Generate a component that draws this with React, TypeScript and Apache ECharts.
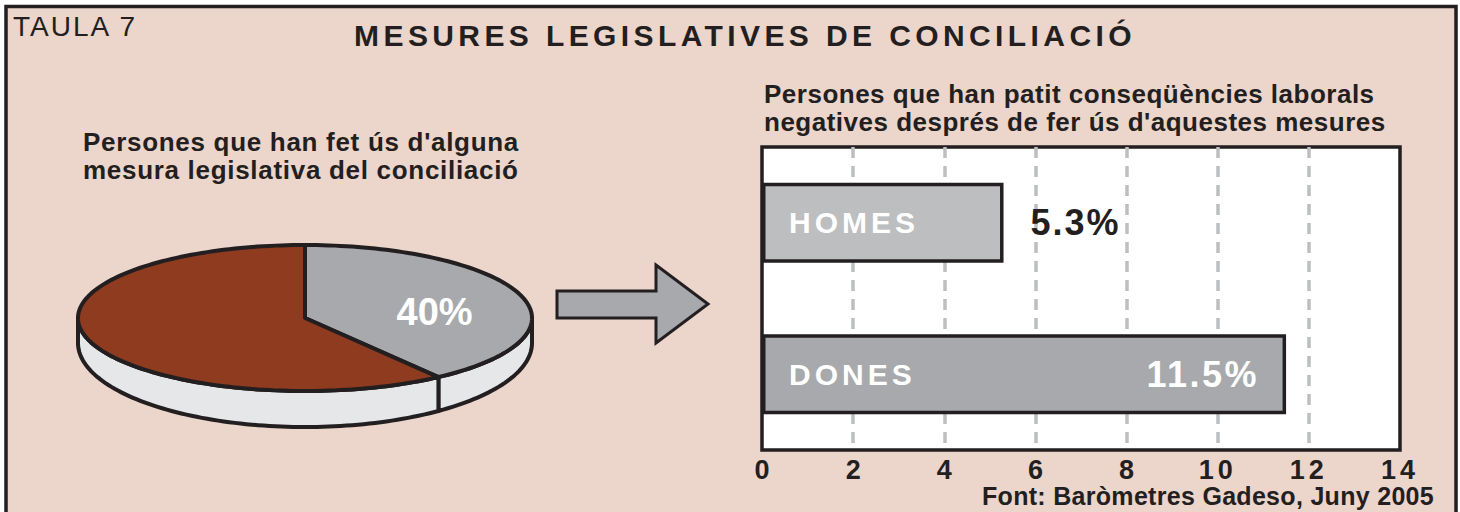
import { useEffect, useRef } from 'react';
import * as echarts from 'echarts';

// ---------- data ----------
const tableLabel = 'TAULA 7';
const chartTitle = 'MESURES LEGISLATIVES DE CONCILIACIÓ';
const pieTitle = "Persones que han fet ús d'alguna\nmesura legislativa del conciliació";
const barTitle = "Persones que han patit conseqüències laborals\nnegatives després de fer ús d'aquestes mesures";
const sourceNote = 'Font: Baròmetres Gadeso, Juny 2005';

const pieNames = ['Sí', 'No'];
const pieValues = [40, 60];
const pieLabels = ['40%', ''];

const barCategories = ['HOMES', 'DONES'];
const barValues = [5.3, 11.5];

const xMin = 0;
const xMax = 14;
const xInterval = 2;

// ---------- style ----------
const FONT = "'Liberation Sans', Arial, Helvetica, sans-serif";
const INK = '#231F20';
const PAPER = '#ECD5CB';
const pieColors = ['#A7A9AC', '#8E3B1F'];
const pieSideColor = '#E6E7E8';
const barColors = ['#BCBEC0', '#A7A9AC'];

const PIE = { cx: 305, cy: 318, rx: 227, ry: 73, drop: 25, bottomRy: 84 };

const SPACING: Record<string, number> = {
  [tableLabel]: 2,
  [chartTitle]: 4.4,
  "Persones que han fet ús d'alguna": 0.7,
  'mesura legislativa del conciliació': 0.7,
  'Persones que han patit conseqüències laborals': 0.5,
  "negatives després de fer ús d'aquestes mesures": 0.5,
  [sourceNote]: 0.3,
  HOMES: 4,
  DONES: 4,
  '5.3%': 2,
  '11.5%': 2.5,
  '10': 4,
  '12': 4,
  '14': 4,
};

function applySpacing(root: HTMLElement) {
  root.querySelectorAll('text').forEach((t) => {
    const s = SPACING[(t.textContent || '').trim()];
    if (s) (t as SVGTextElement).style.letterSpacing = s + 'px';
  });
}

function renderPieSlice(params: any, api: any) {
  const i = params.dataIndex;
  const v = api.value(0) as number;
  const total = pieValues.reduce((a, b) => a + b, 0);
  const before = pieValues.slice(0, i).reduce((a, b) => a + b, 0);
  const a0 = -Math.PI / 2 + (before / total) * Math.PI * 2;
  const a1 = a0 + (v / total) * Math.PI * 2;
  const { cx, cy, rx, ry, drop, bottomRy } = PIE;
  const top = (t: number) => [cx + rx * Math.cos(t), cy + ry * Math.sin(t)];
  const bot = (t: number) => [cx + rx * Math.cos(t), cy + drop + bottomRy * Math.sin(t)];
  const arc = (s: number, e: number, f: (t: number) => number[]) => {
    const n = Math.max(2, Math.ceil(Math.abs(e - s) / (Math.PI / 120)));
    const pts: number[][] = [];
    for (let k = 0; k <= n; k++) pts.push(f(s + ((e - s) * k) / n));
    return pts;
  };
  const children: any[] = [];
  const s = Math.max(a0, 0);
  const e = Math.min(a1, Math.PI);
  if (e > s) {
    children.push({
      type: 'polygon',
      shape: { points: [...arc(s, e, top), ...arc(e, s, bot)] },
      style: { fill: pieSideColor, stroke: INK, lineWidth: 4, lineJoin: 'round' },
    });
  }
  children.push({
    type: 'polygon',
    shape: { points: [[cx, cy], ...arc(a0, a1, top)] },
    style: { fill: pieColors[i], stroke: INK, lineWidth: 4, lineJoin: 'round' },
  });
  if (pieLabels[i]) {
    const m = (a0 + a1) / 2;
    children.push({
      type: 'text',
      style: {
        text: pieLabels[i],
        x: cx + 0.6 * rx * Math.cos(m),
        y: cy + 0.25 * ry * Math.sin(m),
        fill: '#fff',
        fontSize: 38,
        fontWeight: 'bold',
        fontFamily: FONT,
        align: 'center',
        verticalAlign: 'middle',
        textAlign: 'center',
        textVerticalAlign: 'middle',
      },
    });
  }
  return { type: 'group', children };
}

function txt(text: string, x: number, y: number, size: number, weight: string, align: string, extra: any = {}) {
  return {
    type: 'text',
    z: 10,
    x,
    y,
    style: {
      text,
      fill: INK,
      fontSize: size,
      fontWeight: weight,
      fontFamily: FONT,
      align,
      verticalAlign: 'middle',
      textAlign: align,
      textVerticalAlign: 'middle',
      ...extra,
    },
  };
}

export default function App() {
  const ref = useRef<HTMLDivElement>(null);
  useEffect(() => {
    if (!ref.current) return;
    const chart = echarts.init(ref.current, undefined, { renderer: 'svg' });
    const option: any = {
      animation: false,
      backgroundColor: '#ffffff',
      graphic: [
        {
          type: 'rect',
          z: -10,
          shape: { x: 6, y: 6.5, width: 1450, height: 600 },
          style: { fill: PAPER, stroke: INK, lineWidth: 3.5 },
        },
        txt(tableLabel, 13, 26.8, 28, 'normal', 'left'),
        txt(chartTitle, 745, 35, 30, 'bold', 'center'),
        txt(pieTitle, 83, 156.4, 26, 'bold', 'left', { lineHeight: 28 }),
        txt(barTitle, 764, 108, 26, 'bold', 'left', { lineHeight: 28 }),
        txt(sourceNote, 1434, 496, 25, 'bold', 'right'),
        {
          type: 'polygon',
          z: 5,
          shape: {
            points: [
              [557, 291], [656, 291], [656, 265], [708, 304], [656, 343], [656, 318], [557, 318],
            ],
          },
          style: { fill: '#A7A9AC', stroke: INK, lineWidth: 3, lineJoin: 'miter' },
        },
      ],
      grid: {
        left: 762,
        top: 147,
        right: 60,
        bottom: 62,
        show: true,
        backgroundColor: '#ffffff',
        borderColor: INK,
        borderWidth: 3.5,
        containLabel: false,
      },
      xAxis: {
        type: 'value',
        min: xMin,
        max: xMax,
        interval: xInterval,
        axisLine: { show: false },
        axisTick: { show: false },
        axisLabel: {
          color: INK,
          fontSize: 27,
          fontWeight: 'bold',
          fontFamily: FONT,
          margin: 6,
        },
        splitLine: {
          show: true,
          showMinLine: false,
          showMaxLine: false,
          lineStyle: { color: '#BCBEC0', width: 3.5, type: [11, 8], dashOffset: 0 },
        },
      },
      yAxis: {
        type: 'category',
        data: barCategories,
        inverse: true,
        axisLine: { show: false },
        axisTick: { show: false },
        axisLabel: { show: false },
        splitLine: { show: false },
      },
      series: [
        {
          type: 'custom',
          coordinateSystem: 'none',
          renderItem: renderPieSlice,
          data: pieValues.map((v, i) => ({ name: pieNames[i], value: [v] })),
          silent: true,
          z: 5,
        },
        {
          type: 'bar',
          data: barValues.map((v, i) => ({
            value: v,
            itemStyle: { color: barColors[i % barColors.length] },
          })),
          barWidth: 80,
          itemStyle: { borderColor: INK, borderWidth: 3.5 },
          label: {
            show: true,
            position: 'insideLeft',
            distance: 27,
            formatter: '{b}',
            color: '#ffffff',
            fontSize: 30,
            fontWeight: 'bold',
            fontFamily: FONT,
          },
          silent: true,
        },
        {
          type: 'bar',
          barGap: '-100%',
          data: barValues.map((v) => {
            const inside = v > (xMax - xMin) / 2;
            return {
              value: v,
              label: inside
                ? { position: 'insideRight', distance: 27, color: '#ffffff' }
                : { position: 'right', distance: 27, color: INK },
            };
          }),
          barWidth: 80,
          itemStyle: { color: 'rgba(0,0,0,0)', borderWidth: 0 },
          label: {
            show: true,
            formatter: '{c}%',
            fontSize: 36,
            fontWeight: 'bold',
            fontFamily: FONT,
          },
          silent: true,
        },
      ],
    };
    chart.setOption(option);
    applySpacing(ref.current);
    const el = ref.current;
    const onRendered = () => applySpacing(el);
    chart.on('finished', onRendered);
    return () => {
      chart.off('finished', onRendered);
      chart.dispose();
    };
  }, []);
  return (
    <div
      ref={ref}
      style={{ position: 'absolute', left: 0, top: 0, width: 1460, height: 512 }}
    />
  );
}
